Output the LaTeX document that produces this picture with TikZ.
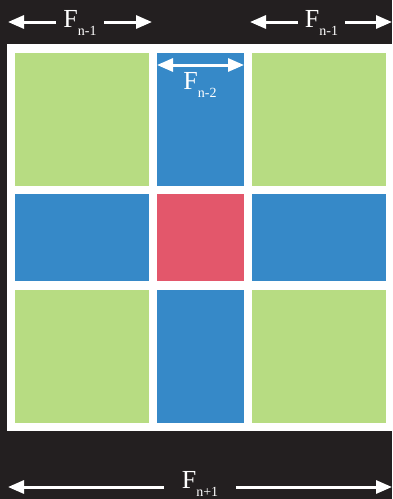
\documentclass[tikz,border=0pt]{standalone}
\usepackage{fontspec}
\setmainfont{Liberation Serif}
\usetikzlibrary{arrows.meta}
\definecolor{bgdark}{HTML}{231F20}
\definecolor{tilegreen}{HTML}{B7DC82}
\definecolor{tileblue}{HTML}{3689C8}
\definecolor{tilered}{HTML}{E3576B}
\newcommand{\fibsub}[1]{F\raisebox{-8pt}{\fontsize{14}{14}\selectfont #1}}
\begin{document}
\begin{tikzpicture}[x=1pt,y=-1pt,line join=round,
  fib/.style={text=white,font=\fontsize{26}{26}\selectfont,inner xsep=7pt,inner ysep=0pt},
  arr/.style={-{Triangle[length=16pt,width=13pt]},draw=white,line width=3pt},
  arrboth/.style={{Triangle[length=16pt,width=13pt]}-{Triangle[length=16pt,width=13pt]},draw=white,line width=3pt}]
	\fill[bgdark] (0,0) rectangle (392,499);
	\useasboundingbox (0,0) rectangle (392,499);
	\fill[white] (7,44) rectangle (394,431);
	
	% corner squares
	\foreach \xa/\xb in {15/149,252/386}{
		\foreach \ya/\yb in {53/186,290/423}{
			\fill[tilegreen] (\xa,\ya) rectangle (\xb,\yb);
		}
	}
	% cross arms
	\foreach \ya/\yb in {53/186,290/423}{
		\fill[tileblue] (157,\ya) rectangle (244,\yb);
	}
	\foreach \xa/\xb in {15/149,252/386}{
		\fill[tileblue] (\xa,194) rectangle (\xb,281);
	}
	\fill[tilered] (157,194) rectangle (244,281);
	
	% top left width
	\node[fib] (ftl) at (80,22.5) {\fibsub{n-1}};
	\coordinate (ftlW) at (8,22);
	\coordinate (ftlE) at (152,22);
	\draw[arr] (ftl.west |- ftlW) -- (ftlW);
	\draw[arr] (ftl.east |- ftlE) -- (ftlE);
	
	% top right width
	\node[fib,inner xsep=6.5pt] (ftr) at (321.5,22.5) {\fibsub{n-1}};
	\coordinate (ftrW) at (250,22);
	\coordinate (ftrE) at (392,22);
	\draw[arr] (ftr.west |- ftrW) -- (ftrW);
	\draw[arr] (ftr.east |- ftrE) -- (ftrE);
	
	% middle column width
	\coordinate (fmW) at (157,65);
	\coordinate (fmE) at (244,65);
	\draw[arrboth] (fmW) -- (fmE);
	\node[fib] (fm) at (200,84.5) {\fibsub{n-2}};
	
	% whole width
	\node[fib,inner xsep=17.5pt] (fb) at (200,483.5) {\fibsub{n+1}};
	\coordinate (fbW) at (8,487);
	\coordinate (fbE) at (392,487);
	\draw[arr] (fb.west |- fbW) -- (fbW);
	\draw[arr] (fb.east |- fbE) -- (fbE);
\end{tikzpicture}
\end{document}
